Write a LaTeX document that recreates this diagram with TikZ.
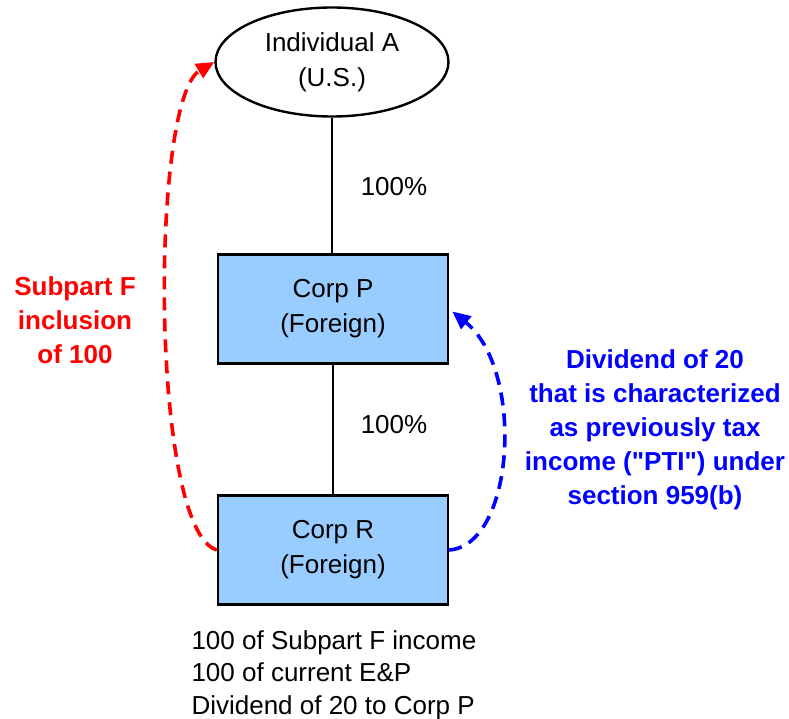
\documentclass[tikz,border=0pt]{standalone}
\usepackage{fontspec}
\setmainfont{Liberation Sans}
\newfontfamily\qfont{Liberation Sans}
\usepackage{tikz}
\usetikzlibrary{arrows.meta, shapes.geometric}
\definecolor{boxc}{HTML}{99CCFF}
\definecolor{redc}{HTML}{FF0000}
\definecolor{bluec}{HTML}{0000FF}
\newcommand{\corp}[3]{%
  \node[corpbox] (#1) at #2 {#3};
}
\newcommand{\dq}{{\qfont"}}

\begin{document}
\begin{tikzpicture}[x=1pt, y=-1pt, line width=2.4pt,
      font=\fontsize{26}{35}\selectfont,
      corpbox/.style={rectangle, draw=black, fill=boxc, minimum width=230pt,
        minimum height=109pt, inner sep=0pt, align=center},
      owner/.style={ellipse, draw=black, fill=white, minimum width=233pt,
        minimum height=109pt, inner sep=0pt, align=center},
      flow/.style={line width=3.6pt, dash pattern=on 13pt off 8pt,
        -{Triangle[length=18pt, width=16pt]}},
      note/.style={font=\fontsize{26}{34}\selectfont\bfseries, align=center}]
    \useasboundingbox (0,0) rectangle (789,719);
    \node[owner] (indiv) at (332,62) {Individual A\\(U.S.)};
    \corp{corpp}{(333,309)}{Corp P\\(Foreign)}
    \corp{corpr}{(333,550)}{Corp R\\(Foreign)}
    \draw (indiv.south) -- (indiv.south |- corpp.north);
    \draw (corpp.south) -- (corpp.south |- corpr.north);
    \node (pct1) at (394,187) {100\%};
    \node (pct2) at (394,425) {100\%};
    \node[anchor=west, align=left, font=\fontsize{26}{32.5}\selectfont]
      (facts) at (187,675)
      {100 of Subpart F income\\100 of current E\&P\\Dividend of 20 to Corp P};
    % inclusion and dividend
    \draw[flow, redc] (corpr.west) .. controls (150,530) and (150,100) .. (indiv.west);
    \draw[flow, bluec, shorten >=4pt] (corpr.east) .. controls (515,545) and (525,370) .. (corpp.east);
    \node[note, text=redc] (incl) at (75,320) {Subpart F\\inclusion\\of 100};
    \node[note, text=bluec] (div) at (655,430)
      {Dividend of 20\\that is characterized\\as previously tax\\income (\dq PTI\dq) under\\section 959(b)};
  \end{tikzpicture}
\end{document}
